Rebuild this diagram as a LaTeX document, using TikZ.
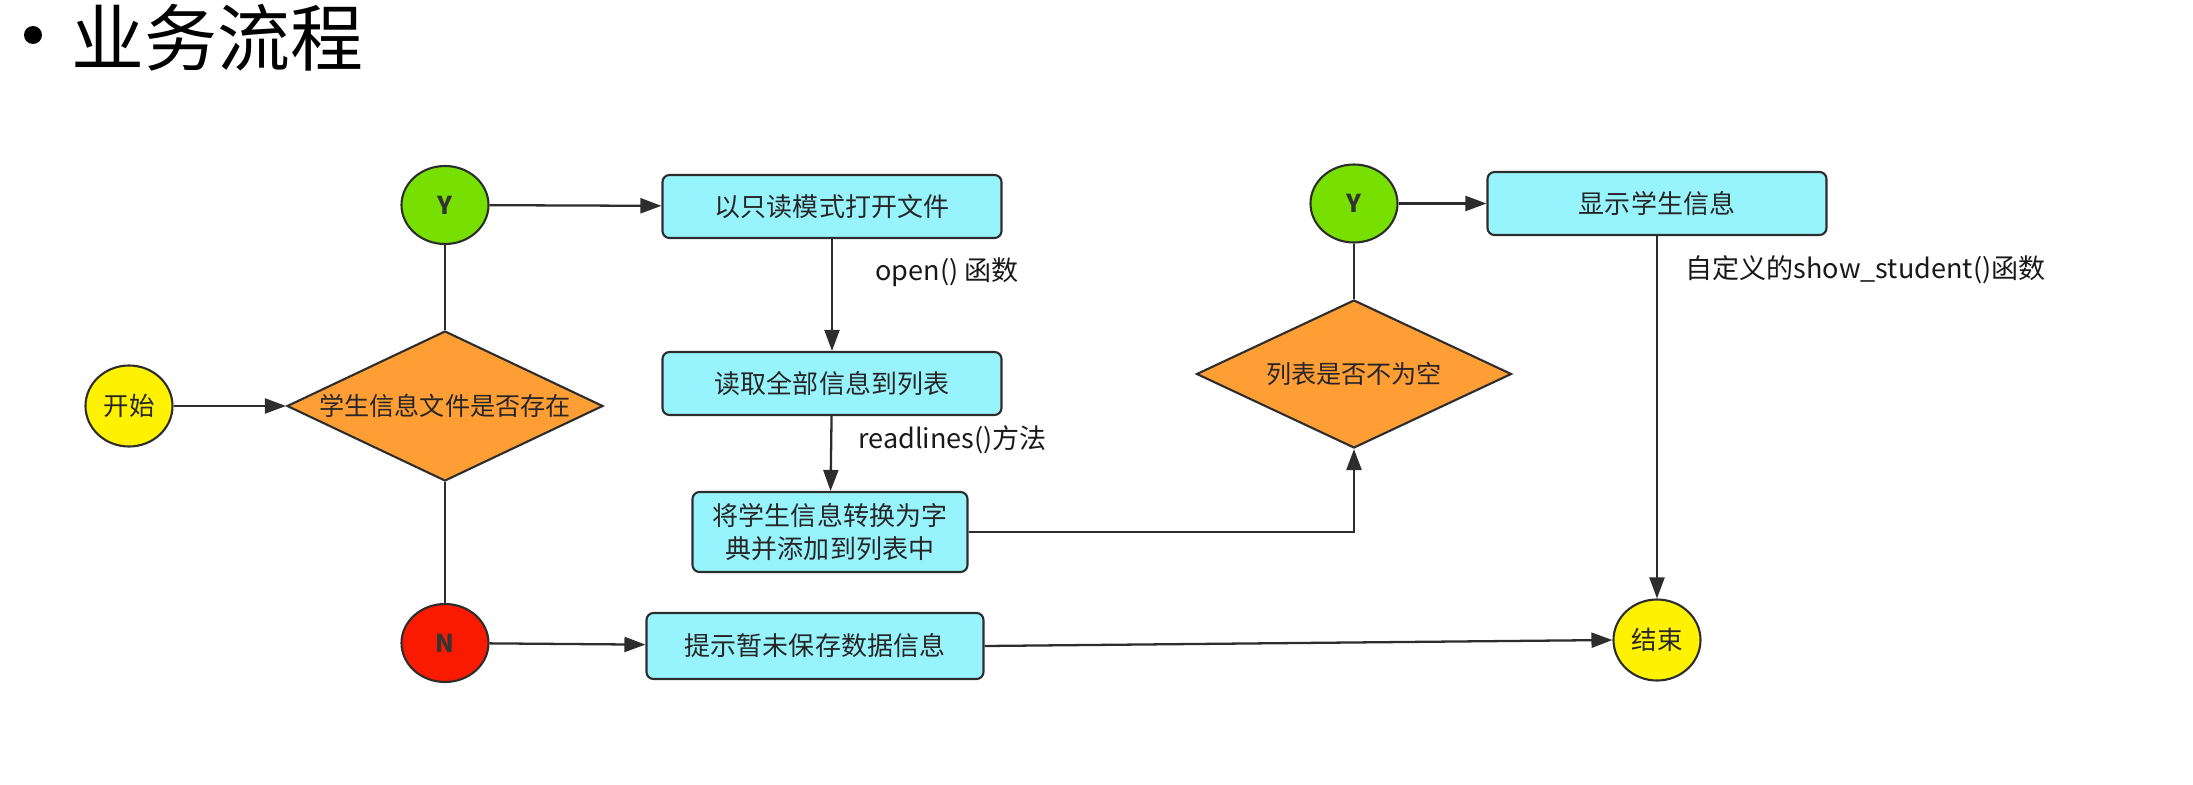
\documentclass[tikz,border=0pt]{standalone}
\usepackage{fontspec}
\setmainfont{Noto Sans CJK SC}
\usetikzlibrary{shapes.geometric,arrows.meta}

\definecolor{linegray}{RGB}{45,45,45}
\definecolor{boxcyan}{RGB}{152,244,252}
\definecolor{decorange}{RGB}{255,158,52}
\definecolor{yesgreen}{RGB}{120,224,0}
\definecolor{nored}{RGB}{250,26,0}
\definecolor{termyellow}{RGB}{255,242,0}

\begin{document}
\begin{tikzpicture}[
    term/.style={ellipse, draw=linegray, line width=1.2pt, fill=termyellow, minimum width=1.74cm, minimum height=1.62cm, inner sep=0pt, text=black!85, font=\fontsize{14.5pt}{17pt}\selectfont},
    yesno/.style={ellipse, draw=linegray, line width=1.2pt, minimum width=1.74cm, minimum height=1.56cm, inner sep=0pt, text=black!80, font=\fontsize{14pt}{17pt}\selectfont\bfseries},
    decision/.style={diamond, aspect=2.1, draw=linegray, fill=decorange, line width=1.2pt, inner sep=0pt, text=black!85, font=\fontsize{14.3pt}{17pt}\selectfont},
    process/.style={rectangle, rounded corners=4pt, draw=linegray, fill=boxcyan, line width=1.2pt, align=center, text=black!85, font=\fontsize{14.8pt}{18.5pt}\selectfont},
    flow/.style={draw=linegray, line width=1.3pt, -{Triangle[length=0.42cm,width=0.3cm]}},
    link/.style={draw=linegray, line width=1.3pt},
    note/.style={anchor=west, inner sep=0pt, text=black!90, font=\fontsize{15.4pt}{18pt}\selectfont}
]
    \useasboundingbox (0,0) rectangle (43.86,-15.7);

    \node[circle, fill=black, minimum size=0.36cm, inner sep=0pt] (bullet) at (0.66,-0.7) {};
    \node[anchor=west, inner sep=0pt, font=\fontsize{41.5pt}{48pt}\selectfont] (title) at (1.42,-0.76) {业务流程};

    \node[term] (start) at (2.58,-8.12) {开始};
    \node[decision, minimum width=6.32cm, minimum height=3cm] (exists) at (8.9,-8.12) {学生信息文件是否存在};
    \node[yesno, fill=yesgreen] (yes1) at (8.9,-4.1) {Y};
    \node[yesno, fill=nored] (no1) at (8.9,-12.86) {N};

    \node[process, minimum width=6.78cm, minimum height=1.26cm] (openfile) at (16.64,-4.13) {以只读模式打开文件};
    \node[process, minimum width=6.78cm, minimum height=1.26cm] (readall) at (16.64,-7.67) {读取全部信息到列表};
    \node[process, minimum width=5.5cm, minimum height=1.6cm] (todict) at (16.6,-10.64) {将学生信息转换为字\\典并添加到列表中};
    \node[process, minimum width=6.74cm, minimum height=1.32cm] (nodata) at (16.3,-12.92) {提示暂未保存数据信息};

    \node[decision, minimum width=6.3cm, minimum height=2.96cm] (notempty) at (27.08,-7.48) {列表是否不为空};
    \node[yesno, fill=yesgreen] (yes2) at (27.08,-4.07) {Y};
    \node[process, minimum width=6.78cm, minimum height=1.26cm] (show) at (33.14,-4.07) {显示学生信息};
    \node[term] (stop) at (33.14,-12.8) {结束};

    \node[note] (openlbl) at (17.5,-5.44) {open() 函数};
    \node[note] (readlbl) at (17.16,-8.8) {readlines()方法};
    \node[note] (showlbl) at (33.7,-5.4) {自定义的show\_student()函数};

    \draw[flow] (start) -- (exists);
    \draw[link] (exists.north) -- (yes1);
    \draw[link] (exists.south) -- (no1);
    \draw[flow] (yes1) -- (openfile);
    \draw[flow] (no1) -- (nodata);
    \draw[flow] (openfile) -- (readall);
    \draw[flow] (readall) -- (todict);
    \draw[flow] (todict.east) -| (notempty.south);
    \draw[link] (notempty.north) -- (yes2);
    \draw[flow] (yes2) -- (show);
    \draw[flow] (show) -- (stop);
    \draw[flow] (nodata.east) -- (stop.west);
\end{tikzpicture}
\end{document}
